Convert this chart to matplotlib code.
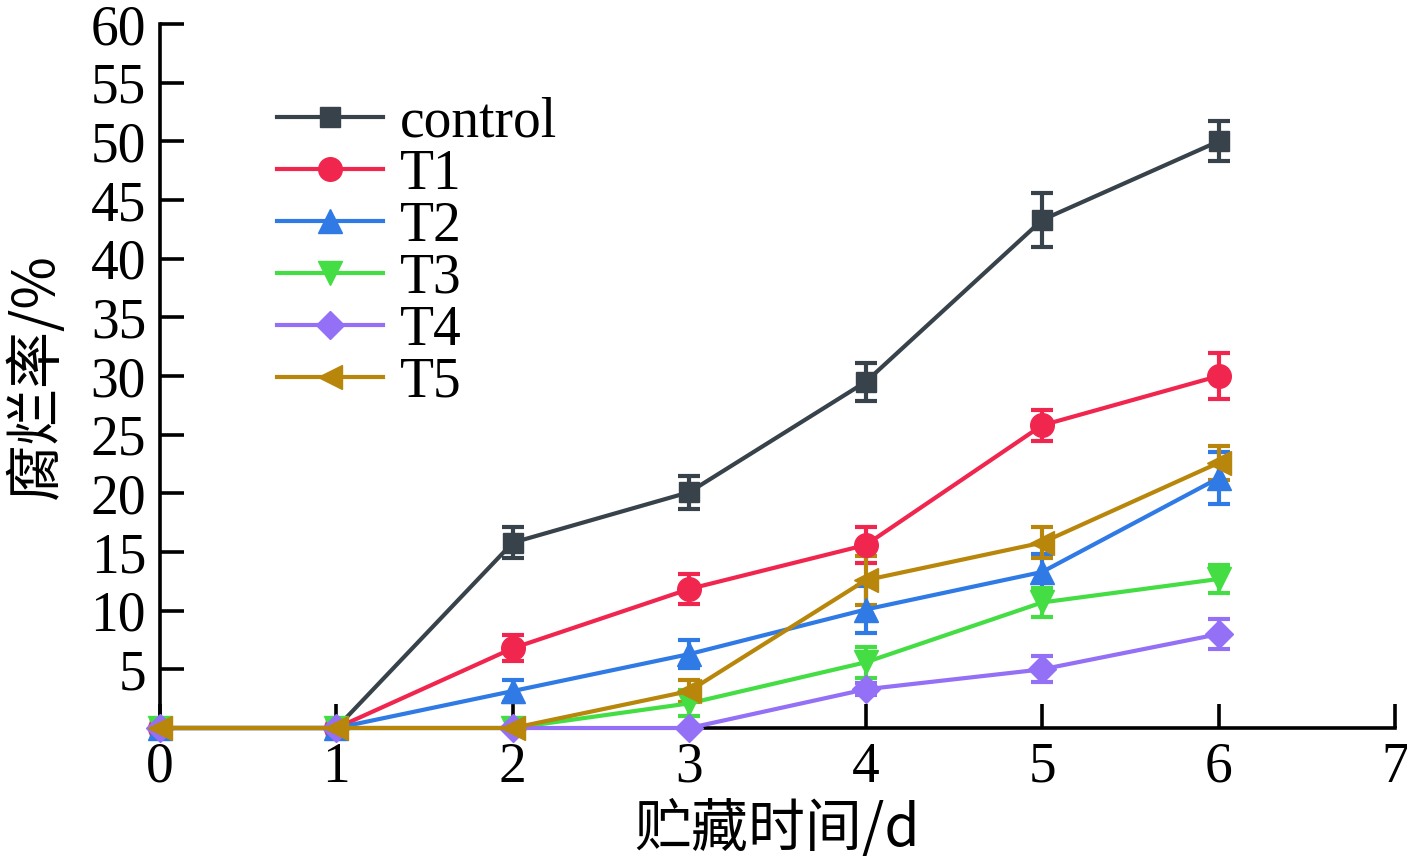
import matplotlib.pyplot as plt
from matplotlib.lines import Line2D

plt.rcParams['font.family'] = ['Liberation Serif', 'Noto Sans CJK SC']

days = [0, 1, 2, 3, 4, 5, 6]
labels = ['control', 'T1', 'T2', 'T3', 'T4', 'T5']
control = [0, 0, 15.8, 20.1, 29.5, 43.3, 50.0]
control_err = [0, 0, 1.3, 1.4, 1.6, 2.3, 1.7]
t1 = [0, 0, 6.8, 11.85, 15.6, 25.8, 30.0]
t1_err = [0, 0, 1.1, 1.3, 1.5, 1.3, 2.0]
t2 = [0, 0, 3.15, 6.3, 10.1, 13.3, 21.3]
t2_err = [0, 0, 0.9, 1.2, 2.0, 1.5, 2.2]
t3 = [0, 0, 0, 2.1, 5.6, 10.7, 12.7]
t3_err = [0, 0, 0, 1.1, 1.3, 1.2, 1.2]
t4 = [0, 0, 0, 0, 3.3, 5.0, 8.0]
t4_err = [0, 0, 0, 0, 0.5, 1.1, 1.3]
t5 = [0, 0, 0, 3.15, 12.6, 15.8, 22.6]
t5_err = [0, 0, 0, 0.9, 2.1, 1.3, 1.45]

series = [control, t1, t2, t3, t4, t5]
errors = [control_err, t1_err, t2_err, t3_err, t4_err, t5_err]
colors = ['#37424a', '#f0264e', '#2f7ae5', '#44dd44', '#9370f5', '#b8860b']
markers = ['s', 'o', '^', 'v', 'D', '<']
msizes = [15, 17, 17, 17, 14, 17]

fig = plt.figure(figsize=(14.07, 8.64), dpi=100)
ax = fig.add_axes([0.1137, 0.1574, 0.8778, 0.8148])

handles = []
for ys, es, c, m, ms, lab in zip(series, errors, colors, markers, msizes, labels):
    ax.errorbar(days, ys, yerr=es, color=c, marker=m, markersize=ms, linewidth=3,
                elinewidth=3, capsize=8, capthick=3, clip_on=False, zorder=3)
    handles.append(Line2D([], [], color=c, marker=m, markersize=ms, linewidth=3, label=lab))

ax.set_xlim(0, 7)
ax.set_ylim(0, 60)
ax.set_xticks(range(0, 8))
ax.set_yticks(range(5, 61, 5))
ax.tick_params(direction='in', length=17, width=2.6, labelsize=40, pad=10)
for s in ['top', 'right']:
    ax.spines[s].set_visible(False)
for s in ['left', 'bottom']:
    ax.spines[s].set_linewidth(2.6)

ax.set_xlabel('贮藏时间/d', fontsize=41, family=['Noto Sans CJK SC'], labelpad=5)
ax.set_ylabel('腐烂率/%', fontsize=41, family=['Noto Sans CJK SC'], labelpad=18)

ax.legend(handles=handles, loc='upper left', bbox_to_anchor=(0.095, 0.897), frameon=False,
          fontsize=40, handlelength=1.9, labelspacing=0.0, borderpad=0,
          borderaxespad=0, handletextpad=0.3)

fig.savefig('out.png', dpi=100)
